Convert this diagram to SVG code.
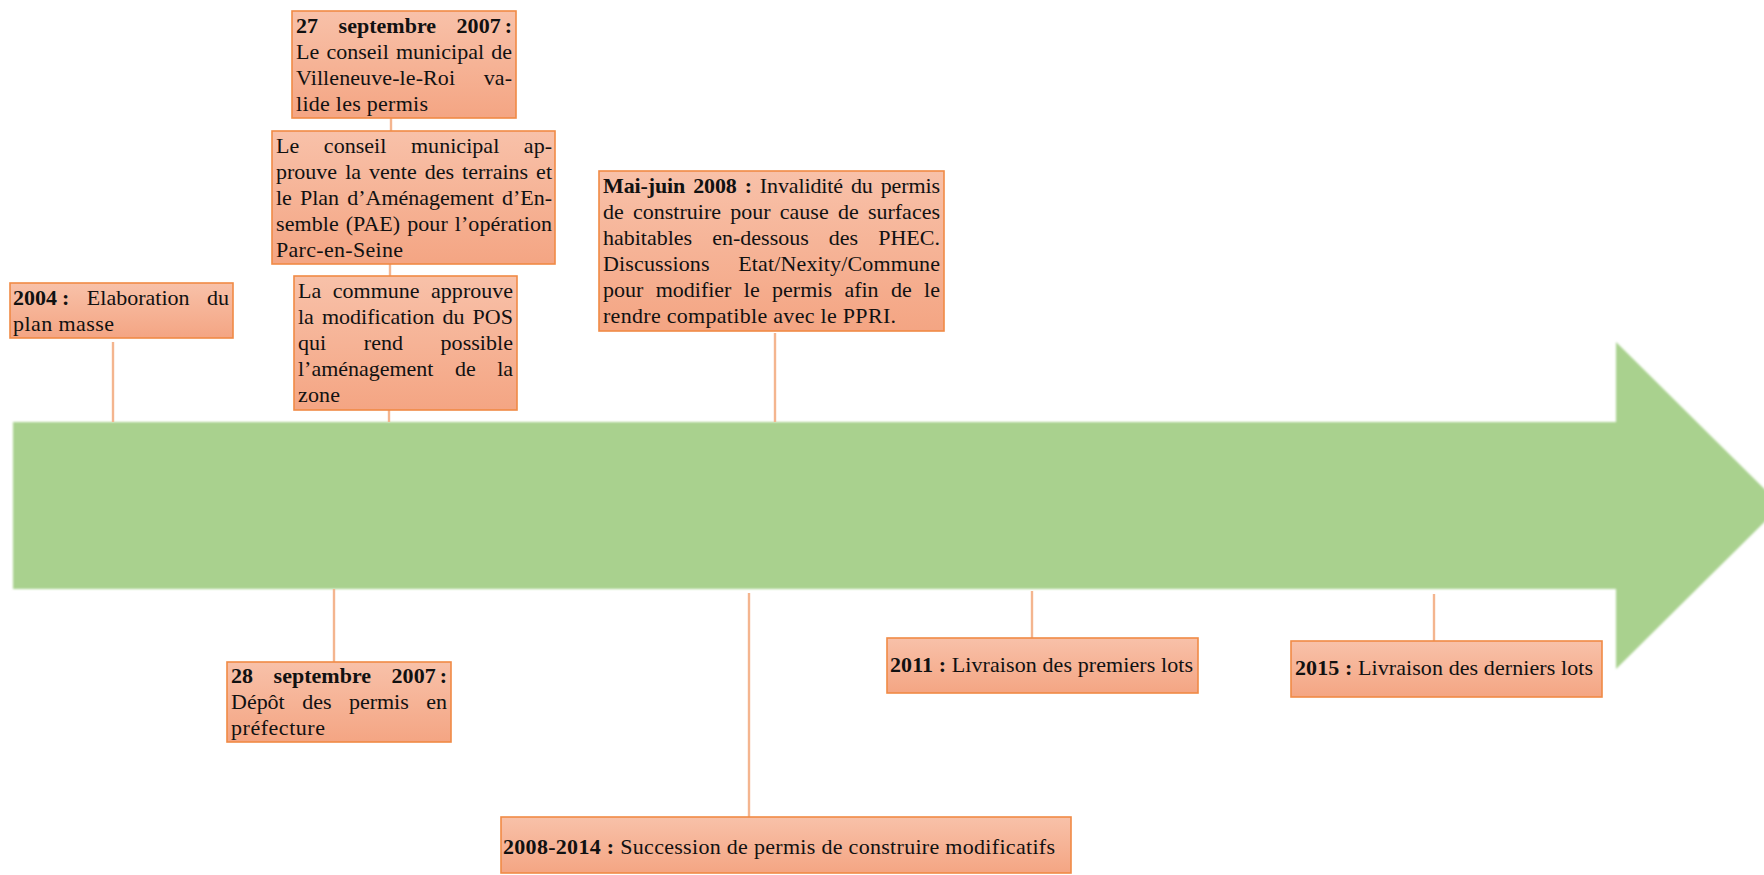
<svg xmlns="http://www.w3.org/2000/svg" width="1764" height="875" viewBox="0 0 1764 875">
<defs>
<linearGradient id="boxg" x1="0" y1="0" x2="0" y2="1">
<stop offset="0" stop-color="#F8C1A9"/>
<stop offset="1" stop-color="#F4A583"/>
</linearGradient>
<filter id="soft" x="-2%" y="-5%" width="104%" height="110%">
<feGaussianBlur stdDeviation="1.2"/>
</filter>
</defs>
<style>
.box{fill:url(#boxg);stroke:#F08A45;stroke-width:1.6}
.t{font-family:"Liberation Serif","Times New Roman",serif;font-size:22px;fill:#111}
.b{font-weight:bold}
.con line{stroke:#F4B58F;stroke-width:2.4}
</style>
<rect width="1764" height="875" fill="#fff"/>
<g id="timeline">
<path d="M13,422 L1616,422 L1616,342 L1781,505.5 L1616,669 L1616,589 L13,589 Z" fill="#A9D18E" filter="url(#soft)"/>
</g>
<g class="con" id="connectors">
<line x1="113" y1="342" x2="113" y2="422"/>
<line x1="391" y1="118" x2="391" y2="131"/>
<line x1="390" y1="264" x2="390" y2="276"/>
<line x1="389" y1="410" x2="389" y2="422"/>
<line x1="775" y1="333" x2="775" y2="422"/>
<line x1="334" y1="589" x2="334" y2="662"/>
<line x1="749" y1="593" x2="749" y2="817"/>
<line x1="1032" y1="591" x2="1032" y2="638"/>
<line x1="1434" y1="594" x2="1434" y2="641"/>
</g>
<g id="n2004">
<rect class="box" x="10" y="283" width="223" height="55"/>
<text class="t" x="13" y="305" textLength="216" lengthAdjust="spacing" style="word-spacing:12px"><tspan class="b">2004<tspan dx="5">:</tspan></tspan> Elaboration du</text>
<text class="t" x="13" y="331" textLength="101" lengthAdjust="spacing">plan masse</text>
</g>
<g id="n27sept">
<rect class="box" x="292" y="11" width="224" height="107"/>
<text class="t b" x="296" y="33" textLength="216" lengthAdjust="spacing" style="word-spacing:15px">27 septembre 2007<tspan dx="4">:</tspan></text>
<text class="t" x="296" y="59" textLength="216" lengthAdjust="spacing" style="word-spacing:1.7px">Le conseil municipal de</text>
<text class="t" x="296" y="85" textLength="216" lengthAdjust="spacing" style="word-spacing:23px">Villeneuve-le-Roi va-</text>
<text class="t" x="296" y="111" textLength="132" lengthAdjust="spacing">lide les permis</text>
</g>
<g id="nPAE">
<rect class="box" x="272" y="131" width="283" height="133"/>
<text class="t" x="276" y="153" textLength="276" lengthAdjust="spacing" style="word-spacing:19px">Le conseil municipal ap-</text>
<text class="t" x="276" y="179" textLength="276" lengthAdjust="spacing" style="word-spacing:2.5px">prouve la vente des terrains et</text>
<text class="t" x="276" y="205" textLength="276" lengthAdjust="spacing" style="word-spacing:2.6px">le Plan d’Aménagement d’En-</text>
<text class="t" x="276" y="231" textLength="276" lengthAdjust="spacing" style="word-spacing:1.4px">semble (PAE) pour l’opération</text>
<text class="t" x="276" y="257" textLength="127" lengthAdjust="spacing">Parc-en-Seine</text>
</g>
<g id="nPOS">
<rect class="box" x="294" y="276" width="223" height="134"/>
<text class="t" x="298" y="298" textLength="215" lengthAdjust="spacing" style="word-spacing:6px">La commune approuve</text>
<text class="t" x="298" y="324" textLength="215" lengthAdjust="spacing" style="word-spacing:2.6px">la modification du POS</text>
<text class="t" x="298" y="350" textLength="215" lengthAdjust="spacing" style="word-spacing:32px">qui rend possible</text>
<text class="t" x="298" y="376" textLength="215" lengthAdjust="spacing" style="word-spacing:16px">l’aménagement de la</text>
<text class="t" x="298" y="402" textLength="42" lengthAdjust="spacing">zone</text>
</g>
<g id="nMaiJuin">
<rect class="box" x="599" y="171" width="345" height="160"/>
<text class="t" x="603" y="193" textLength="337" lengthAdjust="spacing" style="word-spacing:2.6px"><tspan class="b">Mai-juin 2008 :</tspan> Invalidité du permis</text>
<text class="t" x="603" y="219" textLength="337" lengthAdjust="spacing" style="word-spacing:3.7px">de construire pour cause de surfaces</text>
<text class="t" x="603" y="245" textLength="337" lengthAdjust="spacing" style="word-spacing:14.6px">habitables en-dessous des PHEC.</text>
<text class="t" x="603" y="271" textLength="337" lengthAdjust="spacing" style="word-spacing:22.8px">Discussions Etat/Nexity/Commune</text>
<text class="t" x="603" y="297" textLength="337" lengthAdjust="spacing" style="word-spacing:6.9px">pour modifier le permis afin de le</text>
<text class="t" x="603" y="323" textLength="293" lengthAdjust="spacing">rendre compatible avec le PPRI.</text>
</g>
<g id="n28sept">
<rect class="box" x="227" y="662" width="224" height="80"/>
<text class="t b" x="231" y="683" textLength="216" lengthAdjust="spacing" style="word-spacing:15px">28 septembre 2007<tspan dx="4">:</tspan></text>
<text class="t" x="231" y="709" textLength="216" lengthAdjust="spacing" style="word-spacing:12px">Dépôt des permis en</text>
<text class="t" x="231" y="735" textLength="94" lengthAdjust="spacing">préfecture</text>
</g>
<g id="n2008_2014">
<rect class="box" x="501" y="817" width="570" height="56"/>
<text class="t" x="503" y="854" textLength="552" lengthAdjust="spacing"><tspan class="b">2008-2014 :</tspan> Succession de permis de construire modificatifs</text>
</g>
<g id="n2011">
<rect class="box" x="887" y="638" width="311" height="55"/>
<text class="t" x="890" y="672" textLength="303" lengthAdjust="spacing"><tspan class="b">2011 :</tspan> Livraison des premiers lots</text>
</g>
<g id="n2015">
<rect class="box" x="1291" y="641" width="311" height="56"/>
<text class="t" x="1295" y="675" textLength="298" lengthAdjust="spacing"><tspan class="b">2015 :</tspan> Livraison des derniers lots</text>
</g>
</svg>
